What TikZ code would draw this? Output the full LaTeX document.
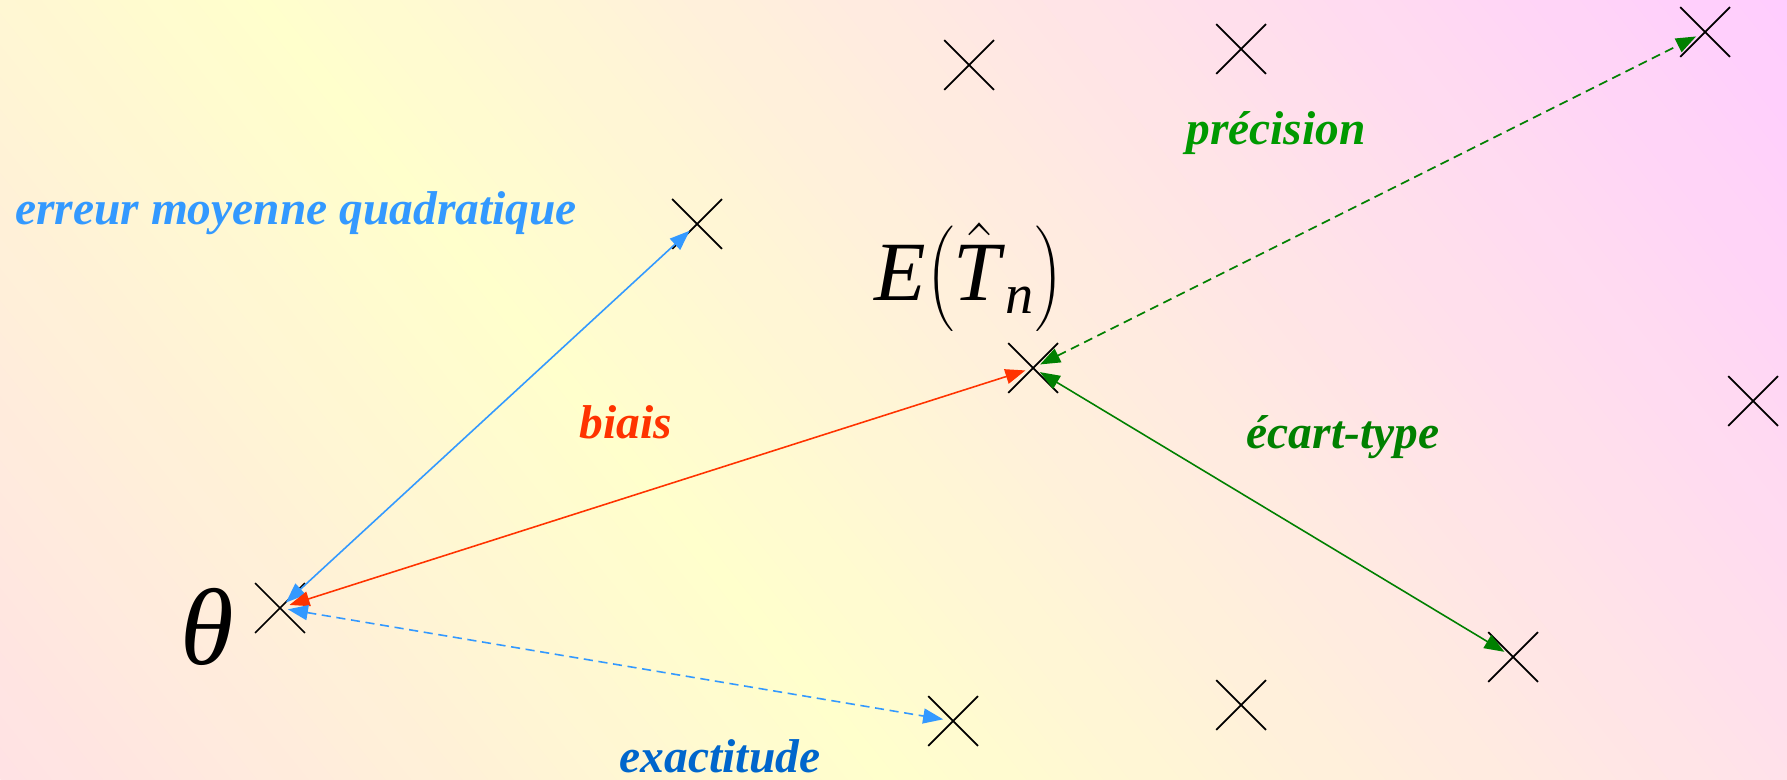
\documentclass[tikz,border=0pt]{standalone}
\usepackage{fontspec}
\setmainfont{Liberation Serif}
\definecolor{bgpink}{HTML}{FFE2E4}
\definecolor{bgyellow}{HTML}{FFFFCC}
\definecolor{bgmagenta}{HTML}{FFCCFF}
\definecolor{mqblue}{HTML}{3399FF}
\definecolor{exblue}{HTML}{0066CC}
\definecolor{prgreen}{HTML}{009900}
\definecolor{etgreen}{HTML}{008000}
\definecolor{biasred}{HTML}{FF3300}
\usetikzlibrary{arrows.meta,shapes.misc}

\begin{document}
\begin{tikzpicture}[
  cx/.style={draw=black, line width=0.5pt, cross out, inner sep=0pt, minimum size=0.48cm},
  arr/.style={{Triangle[length=0.2cm,width=0.15cm]}-{Triangle[length=0.2cm,width=0.15cm]},
              line width=0.45pt, shorten <=0.08cm, shorten >=0.1cm},
  dsh/.style={dash pattern=on 2.6pt off 1.6pt},
  lbl/.style={font=\fontsize{13.5}{14}\selectfont\bfseries\itshape, inner sep=0pt},
]
  \useasboundingbox (0,0) rectangle (17.87,7.79);
  % background, diagonal bands
  \begin{scope}
    \clip (0,0) rectangle (17.87,7.79);
    \foreach \i in {0,...,94} {
      \pgfmathsetmacro{\bandpos}{\i/94}
      \ifdim\bandpos pt<0.36pt
        \pgfmathsetmacro{\bandmix}{100*\bandpos/0.36}
        \colorlet{band}{bgyellow!\bandmix!bgpink}
      \else
        \pgfmathsetmacro{\bandmix}{100*(\bandpos-0.36)/0.64}
        \colorlet{band}{bgmagenta!\bandmix!bgyellow}
      \fi
      \fill[band, rotate=38.8] (\i*0.2,-20) rectangle ++(0.21,40);
    }
  \end{scope}

  \node[cx] (th) at (2.80,1.71)  {};
  \node[cx] (et) at (10.33,4.11) {};
  \node[cx] (mq) at (6.97,5.55)  {};
  \node[cx] (ex) at (9.53,0.58)  {};
  \node[cx] (sd) at (15.13,1.22) {};
  \node[cx] (pr) at (17.05,7.47) {};
  \node[cx] (s1) at (9.69,7.14)  {};
  \node[cx] (s2) at (12.41,7.30) {};
  \node[cx] (s3) at (17.53,3.78) {};
  \node[cx] (s4) at (12.41,0.74) {};

  \node (thlbl) at (2.07,1.52) {\fontsize{31}{31}\selectfont\itshape θ};
  \node[inner sep=0pt] (etlbl) at (9.69,5.02)
    {\fontsize{24}{24}\selectfont\textit{E}$\left(\hat{\mbox{\textit{T}}}_{\mbox{\fontsize{16}{16}\selectfont\textit{n}}}\right)$};

  \draw[arr, mqblue] (th.center) -- (mq.center);
  \draw[arr, biasred] (et.center) -- (th.center);
  \draw[arr, dsh, mqblue] (th.center) -- (ex.center);
  \draw[arr, dsh, etgreen] (et.center) -- (pr.center);
  \draw[arr, etgreen] (et.center) -- (sd.center);

  \node[lbl, mqblue]  (mqlbl) at (2.96,5.66)  {erreur moyenne quadratique};
  \node[lbl, biasred] (bilbl) at (6.26,3.57)  {biais};
  \node[lbl, prgreen] (prlbl) at (12.76,6.46) {précision};
  \node[lbl, etgreen] (sdlbl) at (13.43,3.42) {écart-type};
  \node[lbl, exblue]  (exlbl) at (7.20,0.23)  {exactitude};
\end{tikzpicture}
\end{document}
